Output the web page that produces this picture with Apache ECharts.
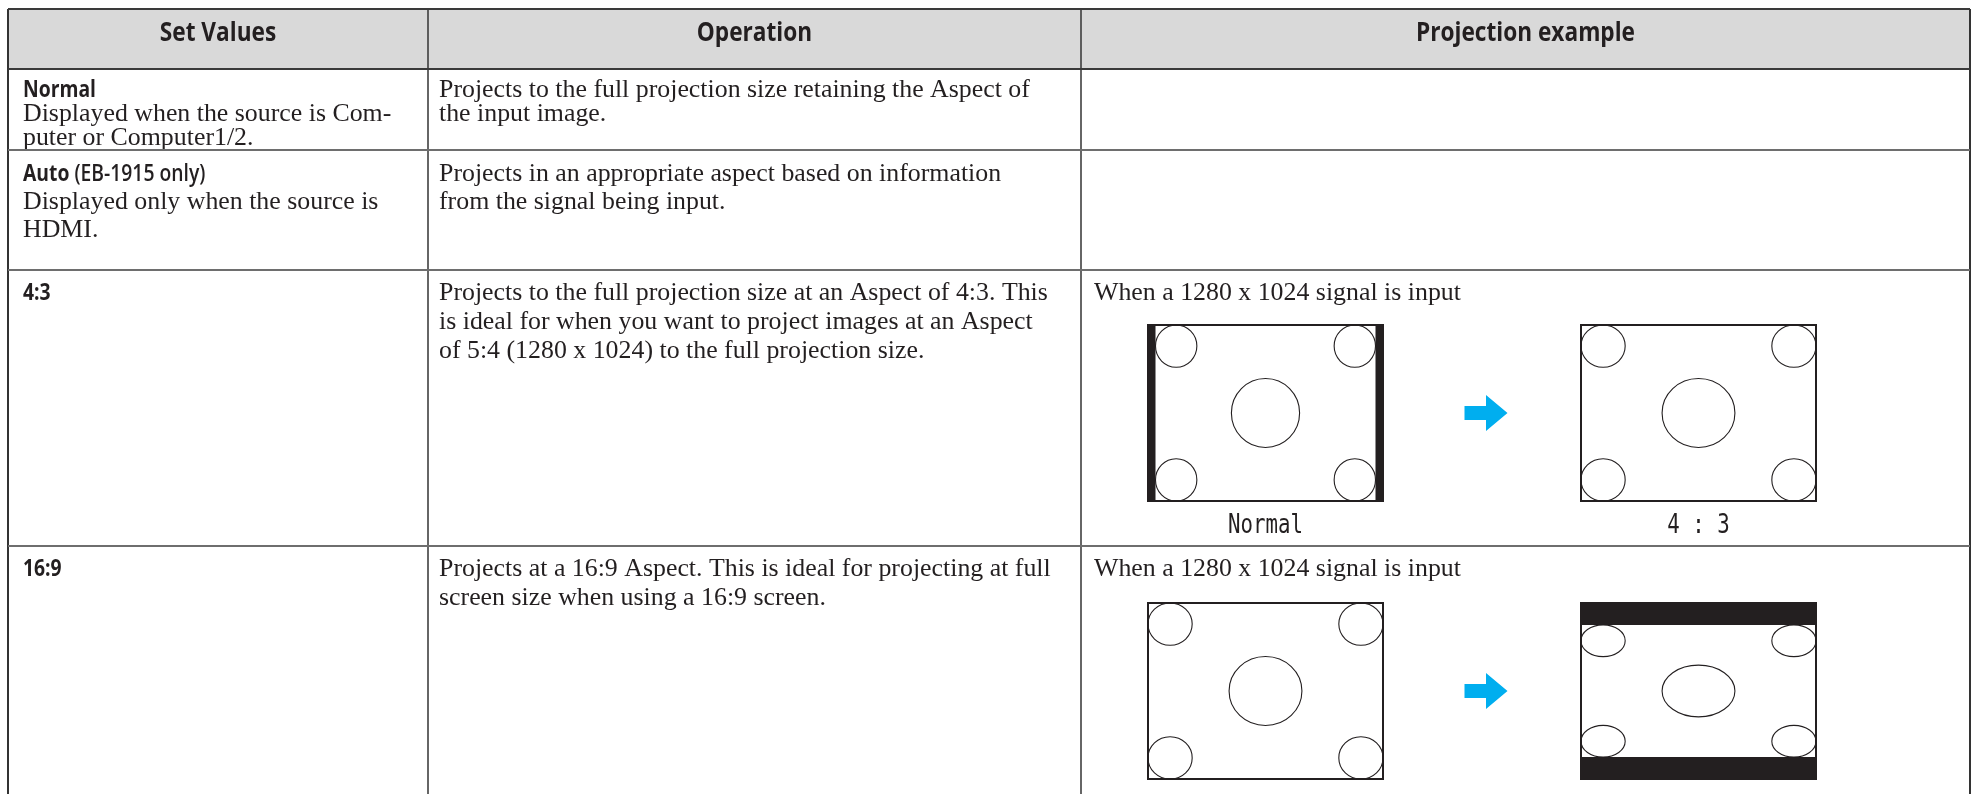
<!DOCTYPE html>
<html><head><meta charset="utf-8">
<script src="https://cdn.jsdelivr.net/npm/echarts@6/dist/echarts.min.js"></script>
<style>html,body{margin:0;padding:0;background:#fff}#c{width:1973px;height:794px}</style>
</head><body><div id="c"></div>
<script>
// ---------------- data ----------------
const headers = ['Set Values', 'Operation', 'Projection example'];
const setValueNames = ['Normal', 'Auto', '4:3', '16:9'];
const setValueQualifiers = ['', '(EB-1915 only)', '', ''];
const setValueNotes = [
  ['Displayed when the source is Com-', 'puter or Computer1/2.'],
  ['Displayed only when the source is', 'HDMI.'],
  [],
  []
];
const operations = [
  ['Projects to the full projection size retaining the Aspect of', 'the input image.'],
  ['Projects in an appropriate aspect based on information', 'from the signal being input.'],
  ['Projects to the full projection size at an Aspect of 4:3. This', 'is ideal for when you want to project images at an Aspect', 'of 5:4 (1280 x 1024) to the full projection size.'],
  ['Projects at a 16:9 Aspect. This is ideal for projecting at full', 'screen size when using a 16:9 screen.']
];
const exampleCaptions = ['', '', 'When a 1280 x 1024 signal is input', 'When a 1280 x 1024 signal is input'];
const signalAspect = [5, 4];   // 1280 x 1024 input
const wideAspect = [16, 9];
const diagramModes = [null, null, ['pillarbox', 'stretch'], ['stretch', 'letterbox']];
const diagramLabels = [null, null, ['Normal', '4 : 3'], ['', '']];

// ---------------- layout / style ----------------
const W = 1973, H = 794;
const L = {
  colX: [8, 428, 1081, 1970],
  rowY: [9, 69, 150, 270, 546, 820],
  pad: [15, 11, 13],
  firstLine: [21, 24, 23, 23],
  lineH: [24, 28, 29, 29],
  headerTextY: 0.37,
  boxX: [1148, 1581], boxW: 235, boxH: 176, boxTop: [0, 0, 55, 57],
  arrowX: 1486, labelGap: 25
};
const INK = '#231f20';
const SERIF = '"Liberation Serif", "DejaVu Serif", serif';
const SANS = '"Open Sans", "Noto Sans", sans-serif';
const MONO = '"DejaVu Sans Mono", monospace';
const SANS_SX = 0.82, MONO_SX = 0.8, SERIF_SX = 1.04;
const ctx = document.createElement('canvas').getContext('2d');
function fit(text, weight, family, target, sx) {
  ctx.font = weight + ' 100px ' + family;
  return 100 * target / (ctx.measureText(text).width * sx);
}
const serifSize = fit(operations[2][0], 'normal', SERIF, 609, SERIF_SX);
const headSize = fit(headers[2], 'bold', SANS, 219, SANS_SX);
const boldSize = fit(setValueNames[0], 'bold', SANS, 73, SANS_SX);
const monoSize = fit('Normal', 'normal', MONO, 75, MONO_SX);
const fSerif = serifSize.toFixed(2) + 'px ' + SERIF;
const fHead = 'bold ' + headSize.toFixed(2) + 'px ' + SANS;
const fBold = 'bold ' + boldSize.toFixed(2) + 'px ' + SANS;
const fQual = '600 ' + boldSize.toFixed(2) + 'px ' + SANS;
const fMono = monoSize.toFixed(2) + 'px ' + MONO;

// circles of the test image, in fractions of the displayed picture
const circles = [
  [0.094, 0.12, 0.094, 0.12], [0.906, 0.12, 0.094, 0.12],
  [0.094, 0.88, 0.094, 0.12], [0.906, 0.88, 0.094, 0.12],
  [0.5, 0.5, 0.155, 0.196]
];

function txt(api, s, x, y, font, align, sx) {
  const p = api.coord([x, y]);
  return { type: 'text', x: p[0], y: p[1], scaleX: sx || 1,
    style: { text: s, x: 0, y: 0, font: font, fill: INK, align: align || 'left', verticalAlign: 'middle' } };
}
function rect(api, x0, y0, x1, y1, style) {
  const p = api.coord([x0, y0]); const s = api.size([x1 - x0, y1 - y0]);
  return { type: 'rect', shape: { x: p[0], y: p[1], width: s[0], height: s[1] }, style: style };
}
function line(api, x0, y0, x1, y1, color, w) {
  const a = api.coord([x0, y0]), b = api.coord([x1, y1]);
  return { type: 'line', shape: { x1: a[0], y1: a[1], x2: b[0], y2: b[1] }, style: { stroke: color, lineWidth: w } };
}

function diagram(api, mode, bx, by, bw, bh, out) {
  out.push(rect(api, bx, by, bx + bw, by + bh, { fill: '#fff', stroke: INK, lineWidth: 2 }));
  let cx0 = bx, cy0 = by, cw = bw, ch = bh;
  if (mode === 'pillarbox') {
    cw = bh * signalAspect[0] / signalAspect[1]; cx0 = bx + (bw - cw) / 2;
    out.push(rect(api, bx, by, cx0, by + bh, { fill: INK }));
    out.push(rect(api, cx0 + cw, by, bx + bw, by + bh, { fill: INK }));
  } else if (mode === 'letterbox') {
    ch = bw * wideAspect[1] / wideAspect[0]; cy0 = by + (bh - ch) / 2;
    out.push(rect(api, bx, by, bx + bw, cy0, { fill: INK }));
    out.push(rect(api, bx, cy0 + ch, bx + bw, by + bh, { fill: INK }));
  }
  circles.forEach(function (c) {
    const p = api.coord([cx0 + c[0] * cw, cy0 + c[1] * ch]);
    const r = api.size([c[2] * cw, c[3] * ch]);
    out.push({ type: 'ellipse', shape: { cx: p[0], cy: p[1], rx: r[0], ry: r[1] }, style: { fill: 'none', stroke: INK, lineWidth: 1.1 } });
  });
}
function arrow(api, cx, cy, out) {
  const pts = [[-21.5, -7], [0, -7], [0, -18], [21.5, 0], [0, 18], [0, 7], [-21.5, 7]].map(function (d) { return api.coord([cx + d[0], cy + d[1]]); });
  out.push({ type: 'polygon', shape: { points: pts }, style: { fill: '#00aeef' } });
}

function renderRow(params, api) {
  const k = api.value(0);
  const top = L.rowY[k], bot = L.rowY[k + 1];
  const ch = [];
  if (k === 0) {
    ch.push(rect(api, L.colX[0], top, L.colX[3], bot, { fill: '#d9d9d9' }));
    headers.forEach(function (h, i) {
      ch.push(txt(api, h, (L.colX[i] + L.colX[i + 1]) / 2, top + (bot - top) * L.headerTextY + 2, fHead, 'center', SANS_SX));
    });
    return { type: 'group', children: ch };
  }
  const r = k - 1;
  const y0 = top + L.firstLine[r], lh = L.lineH[r];
  // column 1
  const p = api.coord([L.colX[0] + L.pad[0], y0]);
  ch.push({ type: 'text', x: p[0], y: p[1], scaleX: SANS_SX, style: {
    text: '{a|' + setValueNames[r] + '}' + (setValueQualifiers[r] ? '{b| ' + setValueQualifiers[r] + '}' : ''),
    x: 0, y: 0, verticalAlign: 'middle', fill: INK,
    rich: { a: { font: fBold, fill: INK }, b: { font: fQual, fill: INK } } } });
  setValueNotes[r].forEach(function (s, j) { ch.push(txt(api, s, L.colX[0] + L.pad[0], y0 + (j + 1) * lh, fSerif, 'left', SERIF_SX)); });
  // column 2
  operations[r].forEach(function (s, j) { ch.push(txt(api, s, L.colX[1] + L.pad[1], y0 + j * lh, fSerif, 'left', SERIF_SX)); });
  // column 3
  if (exampleCaptions[r]) ch.push(txt(api, exampleCaptions[r], L.colX[2] + L.pad[2], y0, fSerif, 'left', SERIF_SX));
  if (diagramModes[r]) {
    const by = top + L.boxTop[r];
    diagramModes[r].forEach(function (m, i) {
      diagram(api, m, L.boxX[i], by, L.boxW, L.boxH, ch);
      if (diagramLabels[r][i]) ch.push(txt(api, diagramLabels[r][i], L.boxX[i] + L.boxW / 2, by + L.boxH + L.labelGap, fMono, 'center', MONO_SX));
    });
    arrow(api, L.arrowX, by + L.boxH / 2, ch);
  }
  return { type: 'group', children: ch };
}

function renderGrid(params, api) {
  const ch = [];
  const yEnd = L.rowY[L.rowY.length - 1];
  L.colX.forEach(function (x, i) {
    ch.push(line(api, x, L.rowY[0], x, yEnd, '#333333', (i === 0 || i === 3) ? 2 : 1.5));
  });
  L.rowY.slice(0, -1).forEach(function (y, i) {
    const hdr = i <= 1;
    ch.push(line(api, L.colX[0], y, L.colX[3], y, hdr ? '#3a3a3a' : '#6e6e6e', 2));
  });
  return { type: 'group', children: ch };
}

const chart = echarts.init(document.getElementById('c'), null, { renderer: 'canvas' });
chart.setOption({
  animation: false,
  backgroundColor: '#ffffff',
  grid: { left: 0, right: 0, top: 0, bottom: 0 },
  xAxis: { type: 'value', min: 0, max: W, show: false },
  yAxis: { type: 'value', min: 0, max: H, inverse: true, show: false },
  series: [
    { type: 'custom', renderItem: renderRow, data: [0, 1, 2, 3, 4].map(function (k) { return [k, 0]; }), encode: { x: 1, y: 1 }, clip: false, silent: true, z: 1 },
    { type: 'custom', renderItem: renderGrid, data: [[0, 0]], encode: { x: 1, y: 1 }, clip: false, silent: true, z: 2 }
  ]
});
</script></body></html>
